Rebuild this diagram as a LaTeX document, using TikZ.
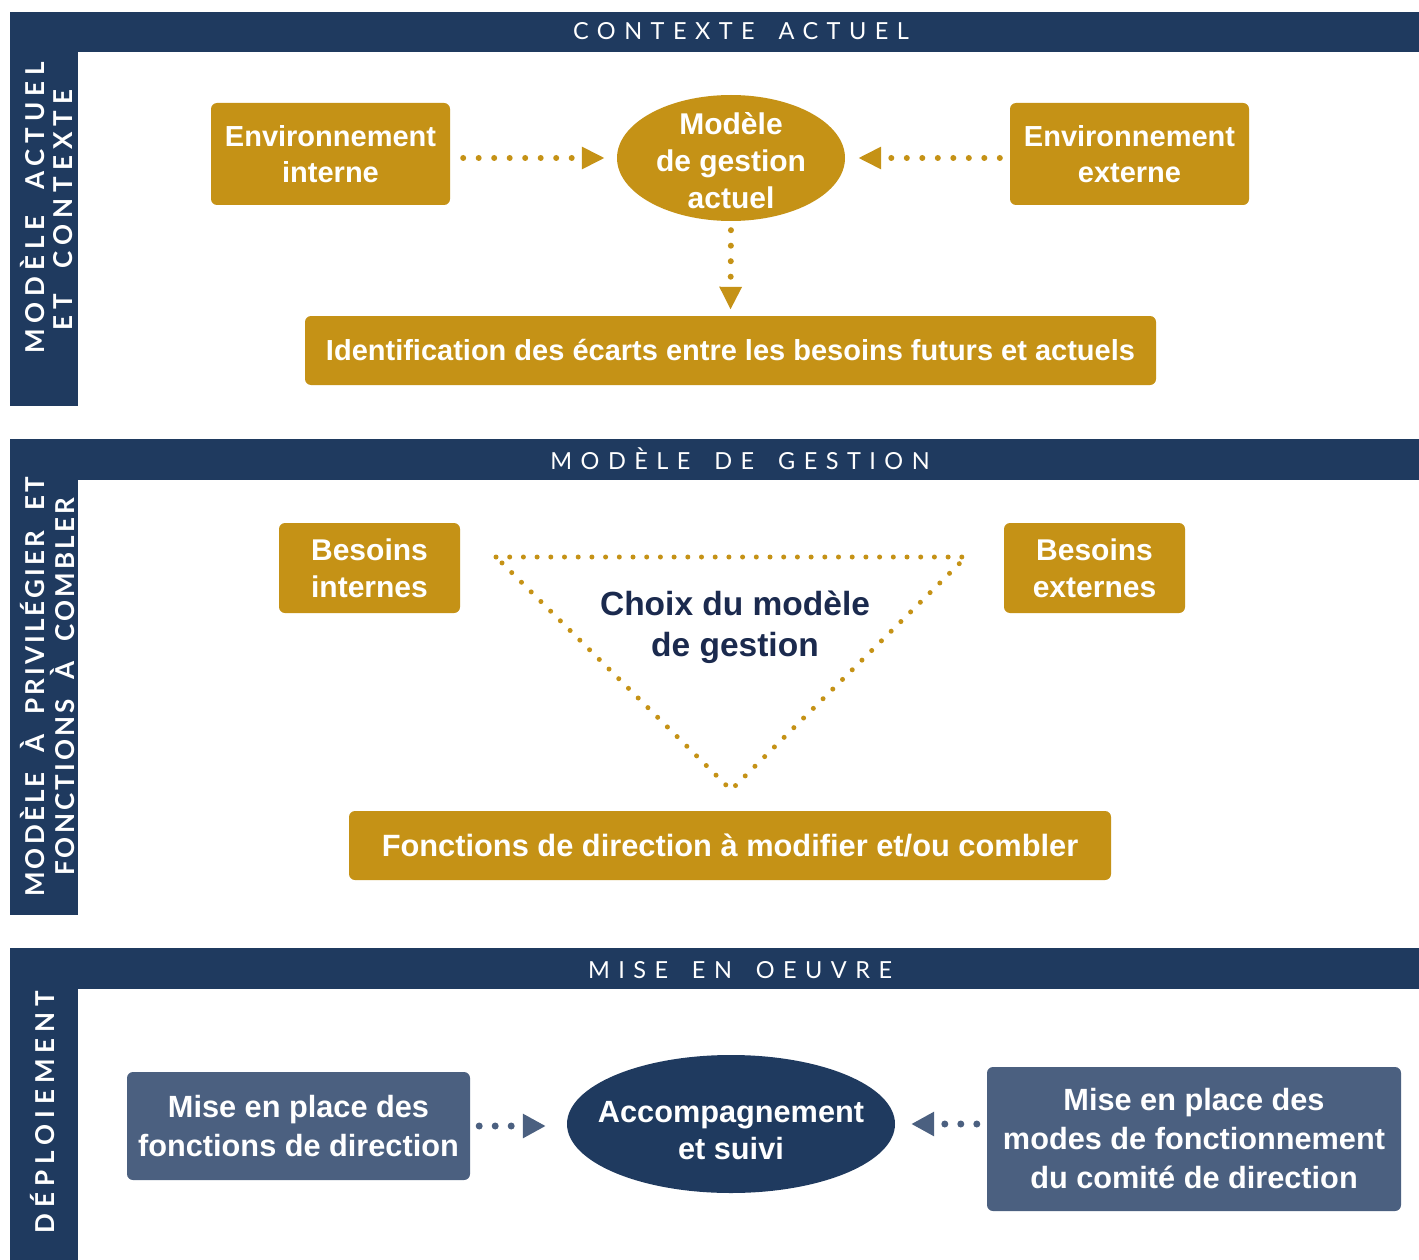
\documentclass[tikz,border=0pt]{standalone}
\usepackage{fontspec}
\setmainfont{Liberation Sans}
\newfontfamily\headfont[LetterSpace=36]{Lato}
\newfontfamily\sidefont[LetterSpace=23]{Lato}
\newfontfamily\sidefonttight[LetterSpace=12]{Lato}
\usetikzlibrary{shapes.geometric,arrows.meta}
\definecolor{navy}{HTML}{1F3A5F}
\definecolor{gold}{HTML}{C59216}
\definecolor{slate}{HTML}{4B6080}
\definecolor{inkblue}{HTML}{1B2A4E}
\newcommand{\hgap}{\hspace{0.4em}}
\newcommand{\sgap}{\hspace{0.5em}}
\newcommand{\tgap}{\hspace{0.4em}}
\begin{document}
\begin{tikzpicture}[x=1pt,y=-1pt,
  goldbox/.style={fill=gold,draw=none,rounded corners=6pt,text=white,
    font=\bfseries\fontsize{29}{36}\selectfont,align=center,inner sep=0pt},
  slatebox/.style={fill=slate,draw=none,rounded corners=6pt,text=white,
    font=\bfseries\fontsize{30.7}{39}\selectfont,align=center,inner sep=0pt},
  headtext/.style={text=white,font=\headfont\fontsize{23.5}{28}\selectfont,inner sep=0pt},
  sidetext/.style={text=white,font=\sidefont\bfseries\fontsize{26}{30}\selectfont,rotate=90,inner sep=0pt},
  sidetight/.style={sidetext,font=\sidefonttight\bfseries\fontsize{26}{30}\selectfont},
  ovaltext/.style={text=white,font=\bfseries\fontsize{30}{37}\selectfont,align=center,inner sep=0pt},
  goldarrow/.style={draw=gold,line width=6pt,line cap=round,dash pattern=on 0pt off 15.5pt,
    -{Triangle[length=23pt,width=21pt]}},
  slatearrow/.style={draw=slate,line width=7pt,line cap=round,dash pattern=on 0pt off 16pt,
    -{Triangle[length=23pt,width=23pt]}},
  dotline/.style={draw=gold,line width=5pt,line cap=round,dash pattern=on 0pt off 13.7pt}
]
\useasboundingbox (0,0) rectangle (1419,1260);
\fill[white] (0,0) rectangle (1419,1260);

% ---------- panel bars ----------
\fill[navy] (10,12) rectangle (1419,52);
\fill[navy] (10,12) rectangle (78,406);
\fill[navy] (10,439) rectangle (1419,480);
\fill[navy] (10,439) rectangle (78,915);
\fill[navy] (10,948) rectangle (1419,989);
\fill[navy] (10,948) rectangle (78,1260);

\node[headtext] (h1) at (741,31) {CONTEXTE\hgap{} ACTUEL};
\node[headtext] (h2) at (740,459) {MODÈLE\hgap{} DE\hgap{} GESTION};
\node[headtext] (h3) at (740,970) {MISE\hgap{} EN\hgap{} OEUVRE};

\node[sidetext] (s1a) at (33,208) {MODÈLE\sgap{} ACTUEL};
\node[sidetext] (s1b) at (63,210) {ET\sgap{} CONTEXTE};
\node[sidetight] (s2a) at (33,687) {MODÈLE\tgap{} À\tgap{} PRIVILÉGIER\tgap{} ET};
\node[sidetight] (s2b) at (63,687) {FONCTIONS\tgap{} À\tgap{} COMBLER};
\node[sidetext] (s3) at (43,1112) {DÉPLOIEMENT};

% ---------- panel 1 ----------
\node[goldbox,minimum width=239pt,minimum height=102pt] (envint) at (330.5,154) {Environnement\\interne};
\node[goldbox,minimum width=239pt,minimum height=102pt] (envext) at (1129.5,154) {Environnement\\externe};
\node[ellipse,fill=gold,draw=none,minimum width=228pt,minimum height=126pt,inner sep=0pt] (modele) at (731,158) {};
\node[ovaltext] (modeletxt) at (731,161) {Modèle\\de gestion\\actuel};
\node[goldbox,minimum width=851pt,minimum height=69pt] (ident) at (730.5,350.5)
  {Identification des écarts entre les besoins futurs et actuels};

\draw[goldarrow,shorten <=13pt,shorten >=12pt] (modele.west -| envint.east) -- (modele.west);
\draw[goldarrow,shorten <=10pt,shorten >=13pt] (modele.east -| envext.west) -- (modele.east);
\draw[goldarrow,shorten <=9pt,shorten >=6pt] (modele.south) -- (ident.north);

% ---------- panel 2 ----------
\node[goldbox,minimum width=181pt,minimum height=90pt,font=\bfseries\fontsize{30}{37}\selectfont] (besint) at (369.5,568) {Besoins\\internes};
\node[goldbox,minimum width=181pt,minimum height=90pt,font=\bfseries\fontsize{30}{37}\selectfont] (besext) at (1094.5,568) {Besoins\\externes};
\coordinate (t1) at (496,557);
\coordinate (t2) at (966,557);
\coordinate (t3) at (731,790);
\draw[dotline] (t1) -- (t2) -- (t3) -- cycle;
\node[text=inkblue,font=\bfseries\fontsize{33.5}{41}\selectfont,align=center,inner sep=0pt] (choix) at (735,627.5) {Choix du modèle\\de gestion};
\node[goldbox,minimum width=762pt,minimum height=69pt,font=\bfseries\fontsize{30.8}{36}\selectfont] (fonct) at (730,845.5)
  {Fonctions de direction à modifier et/ou combler};

% ---------- panel 3 ----------
\node[slatebox,minimum width=343pt,minimum height=108pt] (mep1) at (298.5,1126) {Mise en place des\\fonctions de direction};
\node[slatebox,minimum width=414pt,minimum height=144pt] (mep2) at (1194,1139) {Mise en place des\\modes de fonctionnement\\du comité de direction};
\node[ellipse,fill=navy,draw=none,minimum width=328pt,minimum height=138pt,inner sep=0pt] (acc) at (731,1124) {};
\node[ovaltext,font=\bfseries\fontsize{30.7}{37}\selectfont] (acctxt) at (731,1131) {Accompagnement\\et suivi};

\draw[slatearrow,shorten <=9pt,shorten >=21pt] (mep1.east) -- (mep1.east -| acc.west);
\draw[slatearrow,shorten <=10pt,shorten >=16pt] (acc.east -| mep2.west) -- (acc.east);
\end{tikzpicture}
\end{document}
